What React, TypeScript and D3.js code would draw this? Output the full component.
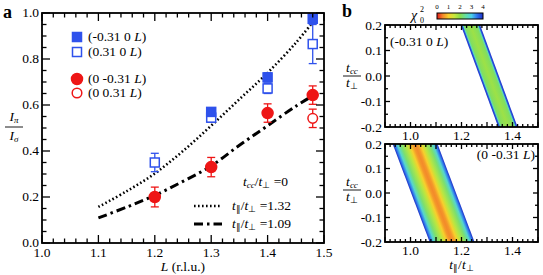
import * as d3 from 'd3';

// panel a data: [L, ratio, error]
const blueFilled = [[1.3, 0.57, 0.018], [1.4, 0.72, 0.02], [1.48, 0.975, 0.02]];
const blueOpen = [[1.2, 0.35, 0.04], [1.3, 0.545, 0.02], [1.4, 0.672, 0.022], [1.48, 0.865, 0.085]];
const redFilled = [[1.2, 0.2, 0.043], [1.3, 0.33, 0.042], [1.4, 0.565, 0.04], [1.48, 0.643, 0.04]];
const redOpen = [[1.48, 0.542, 0.04]];

// model curves t_par/t_perp = 1.32 (dotted) and 1.09 (dash-dot)
const curveL = [1.1, 1.15, 1.2, 1.25, 1.3, 1.35, 1.4, 1.45, 1.48];
const dotted132 = [0.157, 0.225, 0.302, 0.4, 0.51, 0.625, 0.74, 0.87, 0.96];
const dashdot109 = [0.109, 0.156, 0.207, 0.268, 0.335, 0.425, 0.51, 0.595, 0.64];

const xTicksA = [1.0, 1.1, 1.2, 1.3, 1.4, 1.5];
const yTicksA = [0.0, 0.2, 0.4, 0.6, 0.8, 1.0];
const xTicksB = [1.0, 1.2, 1.4];
const yTicksB = [0.2, 0.1, 0.0, -0.1, -0.2];

// colour map for chi^2
const chiStops = [0, 0.5, 1, 1.5, 2, 2.5, 3, 3.5, 4];
const chiColors = ['#e41a1c', '#f38a2a', '#f7d02c', '#c8e83c', '#8ade4c', '#64e0a4', '#4cd0ea', '#2e72ee', '#1c2ec8'];
const chiLabels = [0, 1, 2, 3, 4];

// chi^2 bands: centre line at t_cc = 0.2 and -0.2, half width, and profile across band
const bandTop = { cTop: 1.235, cBot: 1.382, hw: 0.038 };
const profileTopPos = [0, 0.07, 0.12, 0.2, 0.5, 0.8, 0.88, 0.93, 1];
const profileTopVal = [4, 3.7, 2.6, 2.1, 1.85, 2.1, 2.6, 3.7, 4];
const bandBot = { cTop: 1.018, cBot: 1.163, hw: 0.088 };
const profileBotPos = [0, 0.05, 0.1, 0.18, 0.3, 0.38, 0.45, 0.5, 0.55, 0.62, 0.7, 0.82, 0.9, 0.95, 1];
const profileBotVal = [4, 3.4, 2.8, 2.2, 1.6, 1.0, 0.6, 0.5, 0.6, 1.0, 1.6, 2.2, 2.8, 3.4, 4];

const serif = '"Liberation Serif", "Times New Roman", serif';
const BLUE = '#2f52ec';
const RED = '#ee1616';
const FS = 13.5;

const xA = d3.scaleLinear().domain([1.0, 1.5]).range([42, 324]);
const yA = d3.scaleLinear().domain([0, 1]).range([243, 13]);
const xB = d3.scaleLinear().domain([0.9, 1.5]).range([385, 538]);
const yB1 = d3.scaleLinear().domain([-0.2, 0.2]).range([127, 25]);
const yB2 = d3.scaleLinear().domain([-0.2, 0.2]).range([242, 144]);
const chiColor = d3.scaleLinear<string>().domain(chiStops).range(chiColors);

const isMajor = (v: number, step: number) => Math.abs(v / step - Math.round(v / step)) < 1e-6;

function Frame({ x, y, xMinor, yMinor, xMajor, yMajor, lenMin, lenMaj }: any) {
  const [x0, x1] = x.range();
  const [y0, y1] = y.range();
  const xs = x.ticks(Math.round((x.domain()[1] - x.domain()[0]) / xMinor));
  const ys = y.ticks(Math.round((y.domain()[1] - y.domain()[0]) / yMinor));
  return (
    <g stroke="#000" strokeWidth={1.3}>
      {xs.map((v: number, i: number) => {
        const l = isMajor(v, xMajor) ? lenMaj : lenMin;
        return (
          <g key={'x' + i}>
            <line x1={x(v)} x2={x(v)} y1={y0} y2={y0 - l} />
            <line x1={x(v)} x2={x(v)} y1={y1} y2={y1 + l} />
          </g>
        );
      })}
      {ys.map((v: number, i: number) => {
        const l = isMajor(v, yMajor) ? lenMaj : lenMin;
        return (
          <g key={'y' + i}>
            <line x1={x0} x2={x0 + l} y1={y(v)} y2={y(v)} />
            <line x1={x1} x2={x1 - l} y1={y(v)} y2={y(v)} />
          </g>
        );
      })}
      <rect x={x0} y={y1} width={x1 - x0} height={y0 - y1} fill="none" strokeWidth={1.8} />
    </g>
  );
}

function Band({ id, band, pos, val, y }: any) {
  const ax = xB(band.cTop - band.hw), ay = y(0.2);
  const bx = xB(band.cBot - band.hw), by = y(-0.2);
  const pts = [
    [xB(band.cTop - band.hw), y(0.2)],
    [xB(band.cTop + band.hw), y(0.2)],
    [xB(band.cBot + band.hw), y(-0.2)],
    [xB(band.cBot - band.hw), y(-0.2)],
  ];
  const ux = bx - ax, uy = by - ay;
  const un = Math.hypot(ux, uy);
  const nx = uy / un, ny = -ux / un;
  const W = xB(band.cTop + band.hw) - xB(band.cTop - band.hw);
  const s = W * nx;
  return (
    <g>
      <defs>
        <linearGradient id={id} gradientUnits="userSpaceOnUse" x1={ax} y1={ay} x2={ax + s * nx} y2={ay + s * ny}>
          {pos.map((p: number, i: number) => (
            <stop key={i} offset={p} stopColor={chiColor(val[i])} />
          ))}
        </linearGradient>
      </defs>
      <polygon points={pts.map((p) => p.join(',')).join(' ')} fill={`url(#${id})`} />
    </g>
  );
}

function Marker({ d, color, shape, filled }: any) {
  const cx = xA(d[0]), cy = yA(d[1]);
  const cap = 4;
  return (
    <g>
      <g stroke={color} strokeWidth={1.3}>
        <line x1={cx} x2={cx} y1={yA(d[1] - d[2])} y2={yA(d[1] + d[2])} />
        <line x1={cx - cap} x2={cx + cap} y1={yA(d[1] - d[2])} y2={yA(d[1] - d[2])} />
        <line x1={cx - cap} x2={cx + cap} y1={yA(d[1] + d[2])} y2={yA(d[1] + d[2])} />
      </g>
      {shape === 'sq' ? (
        <rect x={cx - 4.5} y={cy - 4.5} width={9} height={9} fill={filled ? color : '#fff'} stroke={color} strokeWidth={1.5} />
      ) : (
        <circle cx={cx} cy={cy} r={filled ? 5.5 : 4.8} fill={filled ? color : '#fff'} stroke={color} strokeWidth={1.5} />
      )}
    </g>
  );
}

function LegendMarker({ x, y, color, shape, filled }: any) {
  return shape === 'sq' ? (
    <rect x={x - 4.5} y={y - 4.5} width={9} height={9} fill={filled ? color : '#fff'} stroke={color} strokeWidth={1.5} />
  ) : (
    <circle cx={x} cy={y} r={filled ? 5.5 : 4.8} fill={filled ? color : '#fff'} stroke={color} strokeWidth={1.5} />
  );
}

function Hkl({ x, y, text, anchor = 'start' }: any) {
  return (
    <text x={x} y={y} fontSize={FS} fontFamily={serif} textAnchor={anchor}>
      {text}
      <tspan fontStyle="italic">L</tspan>)
    </text>
  );
}

function TccLabel({ cx, cy }: any) {
  return (
    <g fontFamily={serif} textAnchor="middle">
      <text x={cx} y={cy - 4} fontSize={FS}>
        <tspan fontStyle="italic">t</tspan>
        <tspan fontStyle="italic" fontSize={9} dy={2}>cc</tspan>
      </text>
      <line x1={cx - 9} x2={cx + 9} y1={cy} y2={cy} stroke="#000" strokeWidth={0.9} />
      <text x={cx} y={cy + 11} fontSize={FS}>
        <tspan fontStyle="italic">t</tspan>
        <tspan fontSize={9} dy={2}>⊥</tspan>
      </text>
    </g>
  );
}

function TRatio({ x, y, suffix, anchor = 'start' }: any) {
  return (
    <text x={x} y={y} textAnchor={anchor}>
      <tspan fontStyle="italic">t</tspan>
      <tspan fontSize={9} dy={2}>∥</tspan>
      <tspan dy={-2}>/</tspan>
      <tspan fontStyle="italic">t</tspan>
      <tspan fontSize={9} dy={2}>⊥</tspan>
      {suffix ? <tspan dy={-2}>{suffix}</tspan> : null}
    </text>
  );
}

export default function App() {
  const line = d3.line<number>().x((_, i) => xA(curveL[i])).y((v) => yA(v)).curve(d3.curveCatmullRom);
  const cbX = d3.scaleLinear().domain([0, 4]).range([437, 483]);

  return (
    <div style={{ position: 'absolute', left: 0, top: 0 }}>
      <svg width={543} height={275} style={{ display: 'block', background: '#fff' }}>
        {/* panel a */}
        <text x={3} y={18} fontSize={18} fontWeight="bold" fontFamily={serif}>a</text>
        <path d={line(dotted132) || ''} fill="none" stroke="#000" strokeWidth={2.6} strokeDasharray="1.6,2.4" />
        <path d={line(dashdot109) || ''} fill="none" stroke="#000" strokeWidth={3} strokeDasharray="9,4,2.5,4" />
        {blueOpen.map((d, i) => <Marker key={'bo' + i} d={d} color={BLUE} shape="sq" filled={false} />)}
        {blueFilled.map((d, i) => <Marker key={'bf' + i} d={d} color={BLUE} shape="sq" filled />)}
        {redOpen.map((d, i) => <Marker key={'ro' + i} d={d} color={RED} shape="c" filled={false} />)}
        {redFilled.map((d, i) => <Marker key={'rf' + i} d={d} color={RED} shape="c" filled />)}
        <Frame x={xA} y={yA} xMinor={0.02} yMinor={0.05} xMajor={0.1} yMajor={0.2} lenMin={4.5} lenMaj={8} />
        <g fontFamily={serif} fontSize={FS}>
          {xTicksA.map((v) => (
            <text key={'xa' + v} x={xA(v)} y={257} textAnchor="middle">{v.toFixed(1)}</text>
          ))}
          {yTicksA.map((v) => (
            <text key={'ya' + v} x={39} y={yA(v) + 4} textAnchor="end">{v.toFixed(1)}</text>
          ))}
          <text x={xA(1.25)} y={271} textAnchor="middle">
            <tspan fontStyle="italic">L</tspan> (r.l.u.)
          </text>
        </g>
        {/* y label I_pi / I_sigma */}
        <g fontFamily={serif} textAnchor="middle">
          <text x={14} y={121} fontSize={FS}>
            <tspan fontStyle="italic">I</tspan>
            <tspan fontStyle="italic" fontSize={9} dy={2}>π</tspan>
          </text>
          <line x1={5} x2={23} y1={127} y2={127} stroke="#000" strokeWidth={0.9} />
          <text x={14} y={140} fontSize={FS}>
            <tspan fontStyle="italic">I</tspan>
            <tspan fontStyle="italic" fontSize={9} dy={2}>σ</tspan>
          </text>
        </g>
        {/* legend */}
        <LegendMarker x={77} y={37} color={BLUE} shape="sq" filled />
        <LegendMarker x={77} y={52} color={BLUE} shape="sq" filled={false} />
        <LegendMarker x={77} y={79} color={RED} shape="c" filled />
        <LegendMarker x={77} y={93} color={RED} shape="c" filled={false} />
        <Hkl x={88} y={41} text="(-0.31 0 " />
        <Hkl x={88} y={56} text="(0.31 0 " />
        <Hkl x={88} y={83} text="(0 -0.31 " />
        <Hkl x={88} y={97} text="(0 0.31 " />
        <g fontFamily={serif} fontSize={FS}>
          <text x={243} y={186}>
            <tspan fontStyle="italic">t</tspan>
            <tspan fontStyle="italic" fontSize={9} dy={2}>cc</tspan>
            <tspan dy={-2}>/</tspan>
            <tspan fontStyle="italic">t</tspan>
            <tspan fontSize={9} dy={2}>⊥</tspan>
            <tspan dy={-2}> =0</tspan>
          </text>
          <line x1={194} x2={222} y1={206} y2={206} stroke="#000" strokeWidth={2.6} strokeDasharray="1.6,2.4" />
          <line x1={194} x2={222} y1={224} y2={224} stroke="#000" strokeWidth={3} strokeDasharray="9,4,2.5,4" />
          <TRatio x={232} y={210} suffix=" =1.32" />
          <TRatio x={232} y={228} suffix=" =1.09" />
        </g>

        {/* panel b */}
        <text x={342} y={17} fontSize={18} fontWeight="bold" fontFamily={serif}>b</text>
        <defs>
          <linearGradient id="cbar" x1="0" x2="1" y1="0" y2="0">
            {chiStops.map((v, i) => (
              <stop key={i} offset={v / 4} stopColor={chiColors[i]} />
            ))}
          </linearGradient>
        </defs>
        <rect x={cbX(0)} y={13} width={cbX(4) - cbX(0)} height={6} fill="url(#cbar)" stroke="#000" strokeWidth={1} />
        <g fontFamily={serif} fontSize={7} textAnchor="middle">
          {chiLabels.map((v) => (
            <text key={'cb' + v} x={cbX(v)} y={9}>{v}</text>
          ))}
        </g>
        <g fontFamily={serif}>
          <text x={411} y={20} fontSize={14} fontStyle="italic">χ</text>
          <text x={420} y={12} fontSize={8}>2</text>
          <text x={420} y={23} fontSize={8}>0</text>
        </g>

        <Band id="bandTop" band={bandTop} pos={profileTopPos} val={profileTopVal} y={yB1} />
        <Band id="bandBot" band={bandBot} pos={profileBotPos} val={profileBotVal} y={yB2} />
        <Frame x={xB} y={yB1} xMinor={0.02} yMinor={0.05} xMajor={0.1} yMajor={0.1} lenMin={3} lenMaj={5} />
        <Frame x={xB} y={yB2} xMinor={0.02} yMinor={0.05} xMajor={0.1} yMajor={0.1} lenMin={3} lenMaj={5} />
        <g fontFamily={serif} fontSize={FS}>
          {yTicksB.map((v) => (
            <text key={'yb1' + v} x={382} y={yB1(v) + 4.5} textAnchor="end">{v.toFixed(1)}</text>
          ))}
          {yTicksB.map((v) => (
            <text key={'yb2' + v} x={382} y={yB2(v) + 4.5} textAnchor="end">{v.toFixed(1)}</text>
          ))}
          {xTicksB.map((v) => (
            <text key={'xb1' + v} x={xB(v)} y={140} textAnchor="middle">{v.toFixed(1)}</text>
          ))}
          {xTicksB.map((v) => (
            <text key={'xb2' + v} x={xB(v)} y={255} textAnchor="middle">{v.toFixed(1)}</text>
          ))}
          <TRatio x={xB(1.2)} y={269} anchor="middle" />
        </g>
        <Hkl x={390} y={46} text="(-0.31 0 " />
        <Hkl x={535} y={159} text="(0 -0.31 " anchor="end" />
        <TccLabel cx={352} cy={76} />
        <TccLabel cx={352} cy={190} />
      </svg>
    </div>
  );
}
